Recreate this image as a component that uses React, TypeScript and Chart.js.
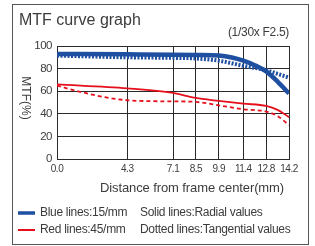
import React, { useEffect, useRef } from "react";
import { Chart, registerables } from "chart.js";

Chart.register(...registerables);

const xTicks = [0, 4.3, 7.1, 8.5, 9.9, 11.4, 12.8, 14.2];
const yTicks = [0, 20, 40, 60, 80, 100];

const blueRadialX = [0, 4.3, 7.1, 8.5, 9.9, 10.7, 11.4, 12.1, 12.8, 13.5, 14.2];
const blueRadialY = [93, 92.6, 92.3, 92, 91.5, 89.8, 87, 83, 77.5, 68.5, 58];

const blueTangX = [0, 4.3, 7.1, 8.5, 9.9, 11.4, 12.8, 14.2];
const blueTangY = [91.5, 90, 89.5, 89, 87, 82.5, 78.5, 72];

const redRadialX = [0, 4.3, 7.1, 8.5, 9.9, 11.4, 12.8, 13.5, 14.2];
const redRadialY = [66, 62.5, 58.5, 54, 51.5, 49, 47, 43.5, 37];

const redTangX = [0, 1, 2, 3, 4.3, 5.7, 7.1, 8.5, 9.9, 11.4, 12.8, 13.5, 14.2];
const redTangY = [65, 61, 57.5, 54.5, 52, 51.2, 51, 50.5, 47.5, 44, 42, 38, 30];

const titleText = "MTF curve graph";
const subtitleText = "(1/30x F2.5)";
const xTitle = "Distance from frame center(mm)";
const yTitle = "MTF(%)";
const legendRows = [
  { color: "#1f4fa0", width: 3.5, left: "Blue lines:15/mm", right: "Solid lines:Radial values" },
  { color: "#e5101c", width: 2, left: "Red lines:45/mm", right: "Dotted lines:Tangential values" },
];

const FONT = '"Liberation Sans", Arial, sans-serif';
const TEXT = "#3c3c3c";
const BLUE = "#1f4fa0";
const RED = "#e5101c";

const pts = (xs: number[], ys: number[]) => xs.map((x, i) => ({ x, y: ys[i] }));

const spacing = {
  id: "spacing",
  beforeDraw(chart: any) {
    chart.ctx.letterSpacing = "-0.5px";
  },
};

const decor = {
  id: "decor",
  afterDraw(chart: any) {
    const ctx = chart.ctx;
    ctx.save();
    ctx.letterSpacing = "0px";
    // outer box
    ctx.strokeStyle = "#555";
    ctx.lineWidth = 1;
    ctx.strokeRect(12.5, 4.5, 296, 240);
    ctx.fillStyle = TEXT;
    // title
    ctx.font = `16px ${FONT}`;
    ctx.textAlign = "left";
    ctx.textBaseline = "alphabetic";
    ctx.fillText(titleText, 19, 25);
    // subtitle
    ctx.font = `12px ${FONT}`;
    ctx.letterSpacing = "-0.3px";
    ctx.textAlign = "right";
    ctx.fillText(subtitleText, 289, 36);
    // x title
    ctx.font = `13px ${FONT}`;
    ctx.letterSpacing = "-0.1px";
    ctx.textAlign = "center";
    ctx.fillText(xTitle, 192, 192);
    // y title rotated clockwise
    ctx.save();
    ctx.translate(25, 98);
    ctx.rotate(Math.PI / 2);
    ctx.font = `12px ${FONT}`;
    ctx.letterSpacing = "0px";
    ctx.textAlign = "center";
    ctx.textBaseline = "middle";
    ctx.fillText(yTitle, 0, 0);
    ctx.restore();
    // legend
    ctx.font = `12px ${FONT}`;
    ctx.letterSpacing = "-0.3px";
    ctx.textAlign = "left";
    ctx.textBaseline = "middle";
    legendRows.forEach((r, i) => {
      const y = 213 + i * 17;
      ctx.strokeStyle = r.color;
      ctx.lineWidth = r.width;
      ctx.beginPath();
      ctx.moveTo(18, y);
      ctx.lineTo(35, y);
      ctx.stroke();
      ctx.fillStyle = TEXT;
      ctx.fillText(r.left, 40, y);
      ctx.fillText(r.right, 140, y);
    });
    ctx.restore();
  },
};

export default function App() {
  const ref = useRef<HTMLCanvasElement>(null);
  useEffect(() => {
    if (!ref.current) return;
    const chart = new Chart(ref.current, {
      type: "line",
      data: {
        datasets: [
          {
            data: pts(blueTangX, blueTangY),
            borderColor: BLUE,
            borderWidth: 4,
            borderDash: [2, 1.5],
            pointRadius: 0,
            cubicInterpolationMode: "monotone",
          },
          {
            data: pts(blueRadialX, blueRadialY),
            borderColor: BLUE,
            borderWidth: 4.5,
            pointRadius: 0,
            cubicInterpolationMode: "monotone",
          },
          {
            data: pts(redTangX, redTangY),
            borderColor: RED,
            borderWidth: 1.8,
            borderDash: [4, 3],
            pointRadius: 0,
            cubicInterpolationMode: "monotone",
          },
          {
            data: pts(redRadialX, redRadialY),
            borderColor: RED,
            borderWidth: 1.8,
            pointRadius: 0,
            cubicInterpolationMode: "monotone",
          },
        ],
      },
      options: {
        responsive: false,
        animation: false,
        devicePixelRatio: 1,
        layout: { padding: { left: 0, right: 26, top: 46, bottom: 0 } },
        plugins: { legend: { display: false }, tooltip: { enabled: false }, title: { display: false } },
        scales: {
          x: {
            type: "linear",
            min: 0,
            max: 14.2,
            afterBuildTicks: (s: any) => {
              s.ticks = xTicks.map((v) => ({ value: v }));
            },
            afterFit: (s: any) => {
              s.height = 87;
            },
            ticks: {
              autoSkip: false,
              maxRotation: 0,
              padding: 4,
              color: TEXT,
              font: { family: FONT, size: 10 },
              callback: (v: any) => Number(v).toFixed(1),
            },
            grid: { color: "#2a2a2a", lineWidth: 1, drawTicks: false },
            border: { color: "#2a2a2a" },
          },
          y: {
            min: 0,
            max: 100,
            afterBuildTicks: (s: any) => {
              s.ticks = yTicks.map((v) => ({ value: v }));
            },
            afterFit: (s: any) => {
              s.width = 57;
            },
            ticks: {
              padding: 5,
              color: TEXT,
              font: { family: FONT, size: 11.5 },
            },
            grid: { color: "#2a2a2a", lineWidth: 1, drawTicks: false },
            border: { color: "#2a2a2a" },
          },
        },
      },
      plugins: [spacing, decor],
    } as any);
    return () => chart.destroy();
  }, []);
  return (
    <div style={{ position: "fixed", left: 0, top: 0, width: 315, height: 246, background: "#fff" }}>
      <canvas ref={ref} width={315} height={246} style={{ display: "block" }} />
    </div>
  );
}
